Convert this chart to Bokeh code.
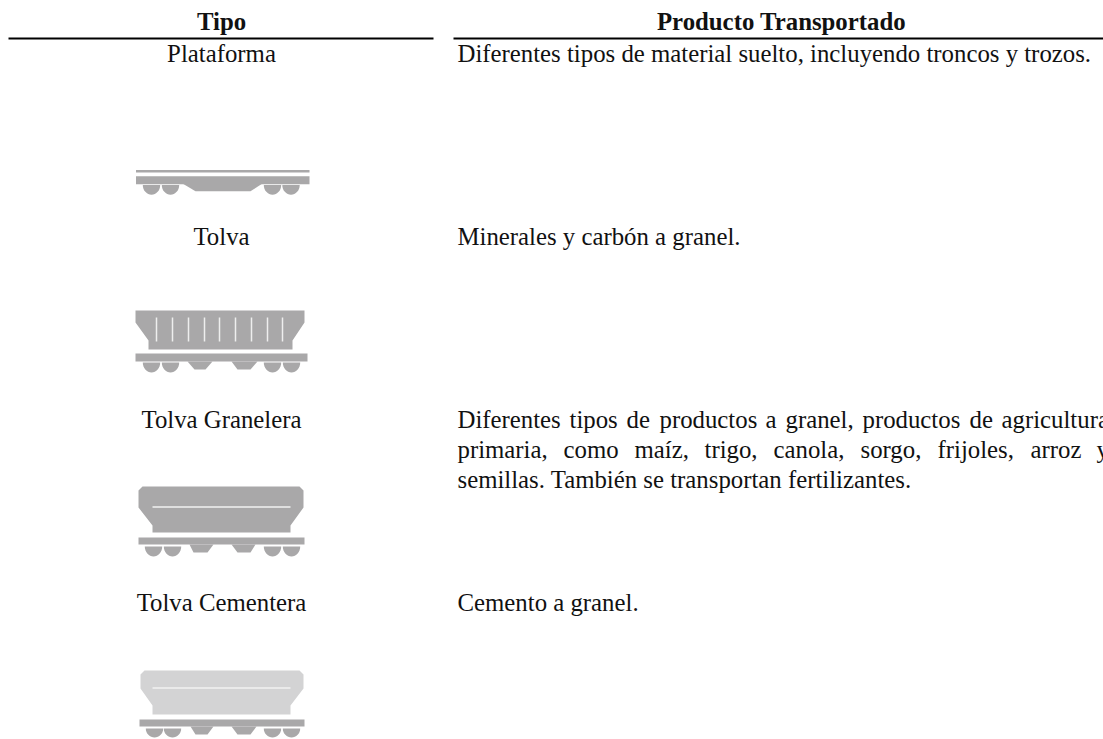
from bokeh.plotting import figure
from bokeh.models import Range1d
from bokeh.core.properties import value
from bokeh.embed import file_html
from bokeh.resources import INLINE
import math

FONT = value("Liberation Serif")
GREY = "#a9a8a9"
LIGHT = "#d3d3d4"

headers = ["Tipo", "Producto Transportado"]
types = ["Plataforma", "Tolva", "Tolva Granelera", "Tolva Cementera"]
single_lines = [
    "Diferentes tipos de material suelto, incluyendo troncos y trozos.",
    "Minerales y carbón a granel.",
    "semillas. También se transportan fertilizantes.",
    "Cemento a granel.",
]
justified_1 = ["Diferentes", "tipos", "de", "productos", "a", "granel,", "productos", "de", "agricultura"]
justified_2 = ["primaria,", "como", "maíz,", "trigo,", "canola,", "sorgo,", "frijoles,", "arroz", "y"]

p = figure(width=1103, height=739, x_range=Range1d(0, 1103), y_range=Range1d(739, 0),
           output_backend="svg", toolbar_location=None, min_border=0, outline_line_color=None,
           background_fill_color="white", border_fill_color="white")
p.axis.visible = False
p.grid.visible = False


def txt(x, y, s, align="left", style="normal"):
    p.text([x], [y], text=[s], text_font=FONT, text_font_size="24.8px", text_color="#111111",
           text_align=align, text_baseline="middle", text_font_style=style)


def shape(xs, ys, color):
    p.patch(xs, ys, fill_color=color, line_color=None)


def wheel(cx, top, rx, ry):
    n = 16
    xs = [cx + rx * math.cos(math.pi * i / n) for i in range(n + 1)]
    ys = [top + ry * math.sin(math.pi * i / n) for i in range(n + 1)]
    shape(xs, ys, GREY)


def wheels(centers, top, ry):
    for c in centers:
        wheel(c, top, 8.7, ry)


def lump(x0, x1, x2, x3, top, bottom):
    shape([x0, x3, x2, x1], [top, top, bottom, bottom], GREY)


# headers and rules
txt(221, 21, headers[0], "center", "bold")
txt(781, 21, headers[1], "center", "bold")
p.segment([8, 453], [38, 38], [433, 1103], [38, 38], line_color="#000000", line_width=2)

# column one
for label, y in zip(types, [53, 236, 419, 602]):
    txt(221, y, label, "center")

# column two
for s, y in zip(single_lines, [53, 236, 479, 602]):
    txt(457, y, s)

j1_x = [457, 569, 626, 659, 765, 785, 862, 969, 1001]
j2_x = [457, 563, 634, 704, 773, 860, 937, 1030, 1096]
for w, x in zip(justified_1, j1_x):
    txt(x, 419, w)
for w, x in zip(justified_2, j2_x):
    txt(x, 449, w)

# platform car
shape([135.5, 309, 309, 135.5], [169.5, 169.5, 172, 172], GREY)
shape([135.5, 309, 309, 135.5], [175.7, 175.7, 183.7, 183.7], GREY)
lump(182, 195, 250, 262, 183, 190.7)
wheels([151, 170, 272, 290.5], 184.5, 9.7)

# hopper car
shape([135, 304, 304, 292, 292, 148, 148, 135],
      [310, 310, 322, 340, 349, 349, 340, 322], GREY)
for x in [156, 172, 188, 204, 219, 235, 251, 267, 282]:
    p.segment([x], [317], [x], [341], line_color="#eeeeee", line_width=1.5)
shape([135, 307, 307, 135], [353, 353, 361, 361], GREY)
lump(187, 194, 205, 212, 361, 369)
lump(231, 237, 250, 257, 361, 369)
wheels([151, 170, 272, 291], 362, 10)


def grain_car(x0, x1, inner0, inner1, top, side, slope, bottom, color):
    r = 4
    shape([x0 + r, x1 - r, x1, x1, inner1, inner1, inner0, inner0, x0, x0],
          [top, top, top + r, side, slope, bottom, bottom, slope, side, top + r], color)
    p.segment([inner0], [side - 0.5], [inner1], [side - 0.5], line_color="#f2f2f2", line_width=1.4)


# grain hopper
grain_car(138, 303, 152, 290, 486, 507, 525, 532, GREY)
shape([138, 304, 304, 138], [537, 537, 544, 544], GREY)
lump(189, 193, 207, 213, 544, 552)
lump(231, 237, 250, 255, 544, 552)
wheels([153, 172, 272, 291], 546, 10)

# cement hopper
grain_car(140, 303, 152, 290, 670, 688, 705, 714, LIGHT)
shape([139, 304, 304, 139], [719, 719, 726, 726], GREY)
lump(190, 195, 207, 213, 726, 734)
lump(231, 237, 250, 256, 726, 734)
wheels([154, 172, 272, 291], 728, 9)

open("out.html", "w").write(file_html(p, INLINE))
